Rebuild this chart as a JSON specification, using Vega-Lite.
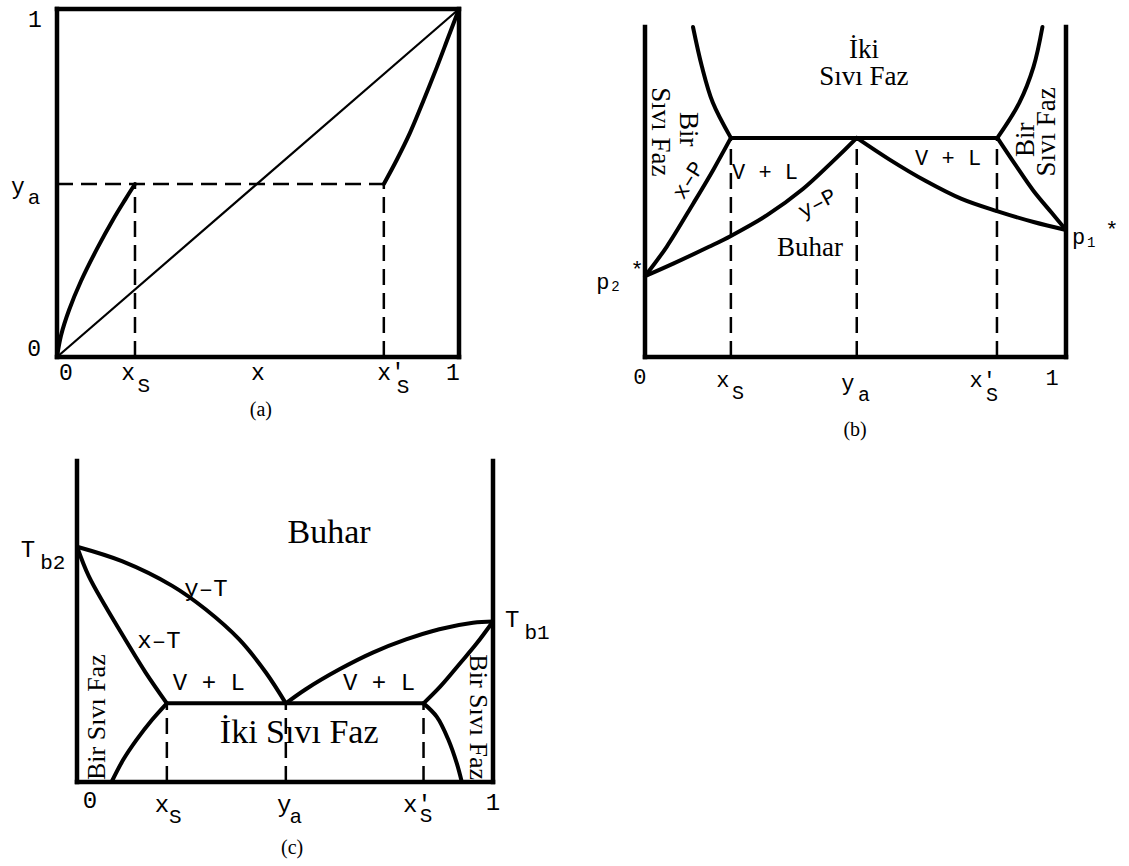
{
  "$schema": "https://vega.github.io/schema/vega-lite/v6.json",
  "width": 1129,
  "height": 866,
  "autosize": {"type": "fit", "contains": "padding"},
  "padding": 0,
  "background": "white",
  "config": {"view": {"stroke": null}},
  "datasets": {
    "aFrame": [{"x":0,"y":0,"x2":0,"y2":1},{"x":0,"y":0,"x2":1,"y2":0},{"x":1,"y":0,"x2":1,"y2":1},{"x":0,"y":1,"x2":1,"y2":1}],
    "aDiag": [{"x":0,"y":0,"x2":1,"y2":1}],
    "aDash": [{"x":0,"y":0.497,"x2":0.813,"y2":0.497},{"x":0.194,"y":0,"x2":0.194,"y2":0.497},{"x":0.813,"y":0,"x2":0.813,"y2":0.497}],
    "aCurves": [
      {"s":"L","i":0,"x":0,"y":0},{"s":"L","i":1,"x":0.01,"y":0.062},{"s":"L","i":2,"x":0.03,"y":0.135},{"s":"L","i":3,"x":0.06,"y":0.219},{"s":"L","i":4,"x":0.1,"y":0.312},{"s":"L","i":5,"x":0.14,"y":0.396},{"s":"L","i":6,"x":0.17,"y":0.453},{"s":"L","i":7,"x":0.194,"y":0.497},
      {"s":"R","i":0,"x":0.813,"y":0.497},{"s":"R","i":1,"x":0.845,"y":0.566},{"s":"R","i":2,"x":0.878,"y":0.644},{"s":"R","i":3,"x":0.911,"y":0.735},{"s":"R","i":4,"x":0.945,"y":0.833},{"s":"R","i":5,"x":0.973,"y":0.918},{"s":"R","i":6,"x":1,"y":1}
    ],
    "aMono": [{"t":"1","x":-0.055,"y":0.968},{"t":"y","x":-0.097,"y":0.489},{"t":"0","x":-0.057,"y":0.023},{"t":"0","x":0.022,"y":-0.046},{"t":"x","x":0.177,"y":-0.046},{"t":"x","x":0.5,"y":-0.046},{"t":"x'","x":0.831,"y":-0.046},{"t":"1","x":0.985,"y":-0.046}],
    "aSub": [{"t":"a","x":-0.057,"y":0.457},{"t":"S","x":0.216,"y":-0.083},{"t":"S","x":0.861,"y":-0.085}],
    "aCap": [{"t":"(a)","x":0.507,"y":-0.152}],

    "bFrame": [{"x":0,"y":0,"x2":0,"y2":1},{"x":0,"y":0,"x2":1,"y2":0},{"x":1,"y":0,"x2":1,"y2":1}],
    "bDash": [{"x":0.204,"y":0,"x2":0.204,"y2":0.664},{"x":0.503,"y":0,"x2":0.503,"y2":0.664},{"x":0.836,"y":0,"x2":0.836,"y2":0.664}],
    "bCurves": [
      {"s":"xPL","i":0,"x":0,"y":0.245},{"s":"xPL","i":1,"x":0.0515,"y":0.334},{"s":"xPL","i":2,"x":0.115,"y":0.466},{"s":"xPL","i":3,"x":0.162,"y":0.567},{"s":"xPL","i":4,"x":0.204,"y":0.664},
      {"s":"yPL","i":0,"x":0,"y":0.245},{"s":"yPL","i":1,"x":0.067,"y":0.283},{"s":"yPL","i":2,"x":0.152,"y":0.334},{"s":"yPL","i":3,"x":0.204,"y":0.367},{"s":"yPL","i":4,"x":0.289,"y":0.429},{"s":"yPL","i":5,"x":0.375,"y":0.509},{"s":"yPL","i":6,"x":0.443,"y":0.589},{"s":"yPL","i":7,"x":0.503,"y":0.664},
      {"s":"yPR","i":0,"x":0.503,"y":0.664},{"s":"yPR","i":1,"x":0.58,"y":0.599},{"s":"yPR","i":2,"x":0.666,"y":0.534},{"s":"yPR","i":3,"x":0.752,"y":0.479},{"s":"yPR","i":4,"x":0.836,"y":0.442},{"s":"yPR","i":5,"x":0.923,"y":0.409},{"s":"yPR","i":6,"x":1,"y":0.385},
      {"s":"xPR","i":0,"x":0.837,"y":0.664},{"s":"xPR","i":1,"x":0.88,"y":0.582},{"s":"xPR","i":2,"x":0.923,"y":0.503},{"s":"xPR","i":3,"x":0.966,"y":0.437},{"s":"xPR","i":4,"x":1,"y":0.385},
      {"s":"TL","i":0,"x":0.114,"y":1},{"s":"TL","i":1,"x":0.135,"y":0.881},{"s":"TL","i":2,"x":0.161,"y":0.771},{"s":"TL","i":3,"x":0.204,"y":0.664},
      {"s":"TR","i":0,"x":0.944,"y":1},{"s":"TR","i":1,"x":0.923,"y":0.88},{"s":"TR","i":2,"x":0.889,"y":0.77},{"s":"TR","i":3,"x":0.837,"y":0.664},
      {"s":"tie","i":0,"x":0.204,"y":0.664},{"s":"tie","i":1,"x":0.837,"y":0.664}
    ],
    "bMono": [{"t":"V + L","x":0.285,"y":0.562},{"t":"V +  L","x":0.72,"y":0.602},{"t":"p","x":-0.1,"y":0.227},{"t":"*","x":-0.019,"y":0.264},{"t":"p","x":1.03,"y":0.364},{"t":"*","x":1.109,"y":0.385},{"t":"0","x":-0.012,"y":-0.061},{"t":"x","x":0.185,"y":-0.07},{"t":"y","x":0.482,"y":-0.079},{"t":"x'","x":0.802,"y":-0.07},{"t":"1","x":0.967,"y":-0.064}],
    "bSmall": [{"t":"2","x":-0.07,"y":0.212},{"t":"1","x":1.06,"y":0.345}],
    "bSub": [{"t":"S","x":0.221,"y":-0.109},{"t":"a","x":0.52,"y":-0.115},{"t":"S","x":0.824,"y":-0.114}],
    "bSerif": [{"t":"İki","x":0.52,"y":0.93},{"t":"Sıvı Faz","x":0.52,"y":0.848},{"t":"Buhar","x":0.392,"y":0.33}],
    "bRotPos": [{"t":"Sıvı Faz","x":0.036,"y":0.682},{"t":"Bir","x":0.102,"y":0.69}],
    "bRotNeg": [{"t":"Bir","x":0.905,"y":0.658},{"t":"Sıvı Faz","x":0.955,"y":0.682}],
    "bXP": [{"t":"x–P","x":0.102,"y":0.536}],
    "bYP": [{"t":"y–P","x":0.409,"y":0.466}],
    "bCap": [{"t":"(b)","x":0.499,"y":-0.221}],

    "cFrame": [{"x":0,"y":0,"x2":0,"y2":1},{"x":0,"y":0,"x2":1,"y2":0},{"x":1,"y":0,"x2":1,"y2":1}],
    "cDash": [{"x":0.216,"y":0,"x2":0.216,"y2":0.245},{"x":0.502,"y":0,"x2":0.502,"y2":0.245},{"x":0.833,"y":0,"x2":0.833,"y2":0.245}],
    "cCurves": [
      {"s":"yTL","i":0,"x":0,"y":0.733},{"s":"yTL","i":1,"x":0.108,"y":0.688},{"s":"yTL","i":2,"x":0.229,"y":0.611},{"s":"yTL","i":3,"x":0.309,"y":0.538},{"s":"yTL","i":4,"x":0.39,"y":0.444},{"s":"yTL","i":5,"x":0.454,"y":0.341},{"s":"yTL","i":6,"x":0.502,"y":0.245},
      {"s":"xTL","i":0,"x":0,"y":0.733},{"s":"xTL","i":1,"x":0.028,"y":0.642},{"s":"xTL","i":2,"x":0.068,"y":0.548},{"s":"xTL","i":3,"x":0.116,"y":0.444},{"s":"xTL","i":4,"x":0.165,"y":0.341},{"s":"xTL","i":5,"x":0.216,"y":0.245},
      {"s":"yTR","i":0,"x":0.502,"y":0.245},{"s":"yTR","i":1,"x":0.55,"y":0.289},{"s":"yTR","i":2,"x":0.631,"y":0.351},{"s":"yTR","i":3,"x":0.711,"y":0.403},{"s":"yTR","i":4,"x":0.791,"y":0.444},{"s":"yTR","i":5,"x":0.871,"y":0.476},{"s":"yTR","i":6,"x":0.952,"y":0.496},{"s":"yTR","i":7,"x":1,"y":0.5},
      {"s":"xTR","i":0,"x":0.833,"y":0.245},{"s":"xTR","i":1,"x":0.873,"y":0.297},{"s":"xTR","i":2,"x":0.921,"y":0.37},{"s":"xTR","i":3,"x":0.961,"y":0.432},{"s":"xTR","i":4,"x":1,"y":0.5},
      {"s":"LL","i":0,"x":0.083,"y":0},{"s":"LL","i":1,"x":0.111,"y":0.069},{"s":"LL","i":2,"x":0.143,"y":0.131},{"s":"LL","i":3,"x":0.18,"y":0.193},{"s":"LL","i":4,"x":0.216,"y":0.245},
      {"s":"LR","i":0,"x":0.833,"y":0.245},{"s":"LR","i":1,"x":0.865,"y":0.203},{"s":"LR","i":2,"x":0.893,"y":0.131},{"s":"LR","i":3,"x":0.913,"y":0.058},{"s":"LR","i":4,"x":0.925,"y":0},
      {"s":"tie","i":0,"x":0.216,"y":0.245},{"s":"tie","i":1,"x":0.833,"y":0.245}
    ],
    "cMono": [{"t":"T","x":-0.118,"y":0.723},{"t":"T","x":1.046,"y":0.505},{"t":"y–T","x":0.31,"y":0.601},{"t":"x–T","x":0.197,"y":0.439},{"t":"V + L","x":0.317,"y":0.308},{"t":"V +  L","x":0.726,"y":0.308},{"t":"0","x":0.031,"y":-0.06},{"t":"x","x":0.204,"y":-0.072},{"t":"y","x":0.498,"y":-0.072},{"t":"x'","x":0.818,"y":-0.072},{"t":"1","x":1.0,"y":-0.065}],
    "cSub": [{"t":"b2","x":-0.058,"y":0.682},{"t":"b1","x":1.106,"y":0.464},{"t":"S","x":0.236,"y":-0.109},{"t":"a","x":0.526,"y":-0.109},{"t":"S","x":0.839,"y":-0.106}],
    "cSerif": [{"t":"Buhar","x":0.606,"y":0.776},{"t":"İki Sıvı Faz","x":0.534,"y":0.153}],
    "cRotNeg": [{"t":"Bir Sıvı Faz","x":0.048,"y":0.202}],
    "cRotPos": [{"t":"Bir Sıvı Faz","x":0.964,"y":0.202}],
    "cCap": [{"t":"(c)","x":0.517,"y":-0.206}]
  },
  "layer": [
    {
      "encoding": {
        "x": {"field":"x","type":"quantitative","scale":{"domain":[-0.14179,2.66667],"nice":false,"zero":false},"axis":null},
        "y": {"field":"y","type":"quantitative","scale":{"domain":[-1.46264,1.02586],"nice":false,"zero":false},"axis":null}
      },
      "layer": [
        {"data":{"name":"aFrame"},"mark":{"type":"rule","color":"black","strokeWidth":4.5,"strokeCap":"square"},"encoding":{"x2":{"field":"x2"},"y2":{"field":"y2"}}},
        {"data":{"name":"aDiag"},"mark":{"type":"rule","color":"black","strokeWidth":2.2},"encoding":{"x2":{"field":"x2"},"y2":{"field":"y2"}}},
        {"data":{"name":"aDash"},"mark":{"type":"rule","color":"black","strokeWidth":2.5,"strokeDash":[16,8]},"encoding":{"x2":{"field":"x2"},"y2":{"field":"y2"}}},
        {"data":{"name":"aCurves"},"mark":{"type":"line","color":"black","strokeWidth":4,"interpolate":"catmull-rom","strokeCap":"round","strokeJoin":"round"},"encoding":{"detail":{"field":"s"},"order":{"field":"i","type":"quantitative"}}},
        {"data":{"name":"aMono"},"mark":{"type":"text","font":"Liberation Mono","fontSize":23,"align":"center","baseline":"middle","color":"black"},"encoding":{"text":{"field":"t"}}},
        {"data":{"name":"aSub"},"mark":{"type":"text","font":"Liberation Mono","fontSize":21,"align":"center","baseline":"middle","color":"black"},"encoding":{"text":{"field":"t"}}},
        {"data":{"name":"aCap"},"mark":{"type":"text","font":"Liberation Serif","fontSize":20,"align":"center","baseline":"middle","color":"black"},"encoding":{"text":{"field":"t"}}}
      ]
    },
    {
      "encoding": {
        "x": {"field":"x","type":"quantitative","scale":{"domain":[-1.53207,1.14964],"nice":false,"zero":false},"axis":null},
        "y": {"field":"y","type":"quantitative","scale":{"domain":[-1.54242,1.08182],"nice":false,"zero":false},"axis":null}
      },
      "layer": [
        {"data":{"name":"bFrame"},"mark":{"type":"rule","color":"black","strokeWidth":4.5,"strokeCap":"square"},"encoding":{"x2":{"field":"x2"},"y2":{"field":"y2"}}},
        {"data":{"name":"bDash"},"mark":{"type":"rule","color":"black","strokeWidth":2.5,"strokeDash":[16,8]},"encoding":{"x2":{"field":"x2"},"y2":{"field":"y2"}}},
        {"data":{"name":"bCurves"},"mark":{"type":"line","color":"black","strokeWidth":4,"interpolate":"catmull-rom","strokeCap":"round","strokeJoin":"round"},"encoding":{"detail":{"field":"s"},"order":{"field":"i","type":"quantitative"}}},
        {"data":{"name":"bMono"},"mark":{"type":"text","font":"Liberation Mono","fontSize":22,"align":"center","baseline":"middle","color":"black"},"encoding":{"text":{"field":"t"}}},
        {"data":{"name":"bSmall"},"mark":{"type":"text","font":"Liberation Mono","fontSize":14,"align":"center","baseline":"middle","color":"black"},"encoding":{"text":{"field":"t"}}},
        {"data":{"name":"bSub"},"mark":{"type":"text","font":"Liberation Mono","fontSize":20,"align":"center","baseline":"middle","color":"black"},"encoding":{"text":{"field":"t"}}},
        {"data":{"name":"bSerif"},"mark":{"type":"text","font":"Liberation Serif","fontSize":27,"align":"center","baseline":"middle","color":"black"},"encoding":{"text":{"field":"t"}}},
        {"data":{"name":"bRotPos"},"mark":{"type":"text","font":"Liberation Serif","fontSize":27,"align":"center","baseline":"middle","angle":90,"color":"black"},"encoding":{"text":{"field":"t"}}},
        {"data":{"name":"bRotNeg"},"mark":{"type":"text","font":"Liberation Serif","fontSize":27,"align":"center","baseline":"middle","angle":270,"color":"black"},"encoding":{"text":{"field":"t"}}},
        {"data":{"name":"bXP"},"mark":{"type":"text","font":"Liberation Mono","fontSize":22,"align":"center","baseline":"middle","angle":302,"color":"black"},"encoding":{"text":{"field":"t"}}},
        {"data":{"name":"bYP"},"mark":{"type":"text","font":"Liberation Mono","fontSize":22,"align":"center","baseline":"middle","angle":332,"color":"black"},"encoding":{"text":{"field":"t"}}},
        {"data":{"name":"bCap"},"mark":{"type":"text","font":"Liberation Serif","fontSize":20,"align":"center","baseline":"middle","color":"black"},"encoding":{"text":{"field":"t"}}}
      ]
    },
    {
      "encoding": {
        "x": {"field":"x","type":"quantitative","scale":{"domain":[-0.1851,2.52885],"nice":false,"zero":false},"axis":null},
        "y": {"field":"y","type":"quantitative","scale":{"domain":[-0.26168,2.43614],"nice":false,"zero":false},"axis":null}
      },
      "layer": [
        {"data":{"name":"cFrame"},"mark":{"type":"rule","color":"black","strokeWidth":4.5,"strokeCap":"square"},"encoding":{"x2":{"field":"x2"},"y2":{"field":"y2"}}},
        {"data":{"name":"cDash"},"mark":{"type":"rule","color":"black","strokeWidth":2.5,"strokeDash":[16,8]},"encoding":{"x2":{"field":"x2"},"y2":{"field":"y2"}}},
        {"data":{"name":"cCurves"},"mark":{"type":"line","color":"black","strokeWidth":4,"interpolate":"catmull-rom","strokeCap":"round","strokeJoin":"round"},"encoding":{"detail":{"field":"s"},"order":{"field":"i","type":"quantitative"}}},
        {"data":{"name":"cMono"},"mark":{"type":"text","font":"Liberation Mono","fontSize":24,"align":"center","baseline":"middle","color":"black"},"encoding":{"text":{"field":"t"}}},
        {"data":{"name":"cSub"},"mark":{"type":"text","font":"Liberation Mono","fontSize":21,"align":"center","baseline":"middle","color":"black"},"encoding":{"text":{"field":"t"}}},
        {"data":{"name":"cSerif"},"mark":{"type":"text","font":"Liberation Serif","fontSize":34,"align":"center","baseline":"middle","color":"black"},"encoding":{"text":{"field":"t"}}},
        {"data":{"name":"cRotNeg"},"mark":{"type":"text","font":"Liberation Serif","fontSize":26,"align":"center","baseline":"middle","angle":270,"color":"black"},"encoding":{"text":{"field":"t"}}},
        {"data":{"name":"cRotPos"},"mark":{"type":"text","font":"Liberation Serif","fontSize":26,"align":"center","baseline":"middle","angle":90,"color":"black"},"encoding":{"text":{"field":"t"}}},
        {"data":{"name":"cCap"},"mark":{"type":"text","font":"Liberation Serif","fontSize":20,"align":"center","baseline":"middle","color":"black"},"encoding":{"text":{"field":"t"}}}
      ]
    }
  ],
  "resolve": {"scale": {"x": "independent", "y": "independent"}}
}
